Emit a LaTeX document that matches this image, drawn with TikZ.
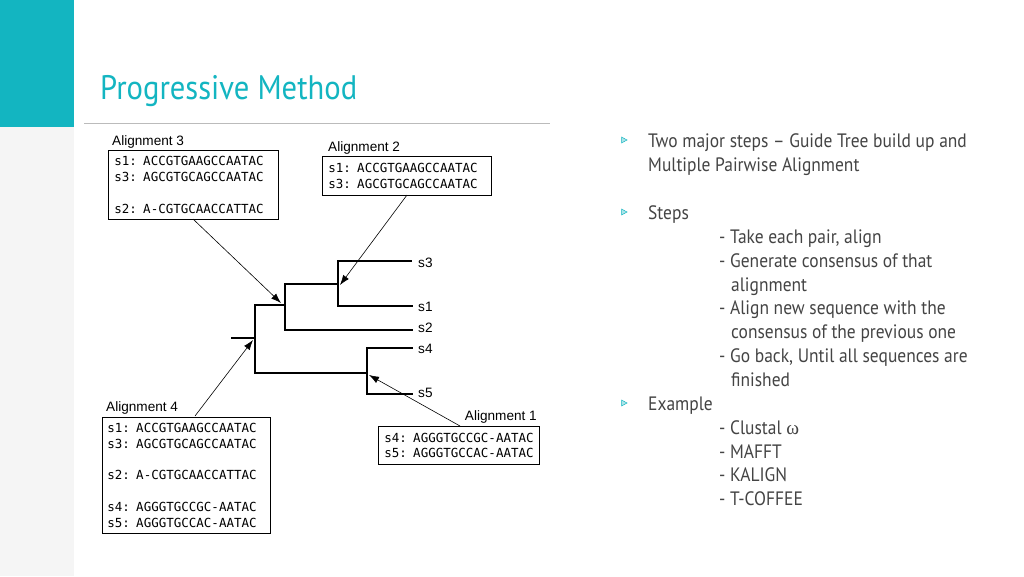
\documentclass[tikz,border=0pt]{standalone}
\usepackage{fontspec}
\setmainfont{PT Sans}
\newfontfamily\bodyfont[FakeStretch=0.9]{PT Sans}
\newfontfamily\monofont{DejaVu Sans Mono}
\newfontfamily\helv{Liberation Sans}
\newfontfamily\greekfont{Liberation Serif}
\usetikzlibrary{arrows.meta}
\definecolor{teal1}{HTML}{13B5C1}
\definecolor{txtgray}{HTML}{444444}
\definecolor{stripgray}{HTML}{F5F5F5}
\definecolor{rulegray}{HTML}{BBBBBB}
\tikzset{
  alnbox/.style={draw=black, line width=0.8pt, anchor=north west, align=left,
    inner xsep=6pt, inner ysep=0pt, font=\monofont\fontsize{12.5}{15.8}\selectfont},
  alnlabel/.style={font=\helv\fontsize{13.6}{16}\selectfont, inner sep=0pt},
  leaf/.style={font=\helv\fontsize{13.6}{16}\selectfont, inner sep=0pt, anchor=west},
  branch/.style={line width=1.8pt, line cap=rect},
  pointer/.style={line width=0.6pt, -{Latex[length=10pt,width=7pt]}},
  bodytext/.style={font=\bodyfont\fontsize{19.4}{24}\selectfont, text=txtgray, anchor=base west, inner sep=0pt},
  bullet/.style={draw=teal1, fill=teal1!35, line width=0.5pt}
}
\begin{document}
\begin{tikzpicture}[x=1pt,y=-1pt]
\useasboundingbox (0,0) rectangle (1024,576);
\fill[white] (0,0) rectangle (1024,576);
\fill[stripgray] (0,0) rectangle (74,576);
\fill[teal1] (0,0) rectangle (74,127);
\node[font=\bodyfont\fontsize{34}{40}\selectfont, text=teal1, anchor=base west, inner sep=0pt] (title) at (100,99) {Progressive Method};
\draw[rulegray, line width=0.8pt] (84,123) coordinate (r1) -- (550,123) coordinate (r2);

% alignment boxes
\node[alnlabel, anchor=base west] (l3) at (112,145) {Alignment 3};
\node[alnbox, minimum width=170pt, minimum height=69pt, text width=158pt] (a3) at (108,150)
 {\mbox{s1: ACCGTGAAGCCAATAC}\\\mbox{s3: AGCGTGCAGCCAATAC}\\[15.8pt]\mbox{s2: A-CGTGCAACCATTAC}};
\node[alnlabel, anchor=base west] (l2) at (328,151) {Alignment 2};
\node[alnbox, minimum width=169pt, minimum height=39pt, text width=157pt] (a2) at (322,156)
 {\mbox{s1: ACCGTGAAGCCAATAC}\\\mbox{s3: AGCGTGCAGCCAATAC}};
\node[alnlabel, anchor=base west] (l4) at (106,411) {Alignment 4};
\node[alnbox, minimum width=168pt, minimum height=116pt, text width=158pt, inner xsep=5pt] (a4) at (102,417)
 {\mbox{s1: ACCGTGAAGCCAATAC}\\\mbox{s3: AGCGTGCAGCCAATAC}\\[15.8pt]\mbox{s2: A-CGTGCAACCATTAC}\\[15.8pt]\mbox{s4: AGGGTGCCGC-AATAC}\\\mbox{s5: AGGGTGCCAC-AATAC}};
\node[alnlabel, anchor=base east] (l1) at (537,420) {Alignment 1};
\node[alnbox, minimum width=161pt, minimum height=38pt, text width=149pt] (a1) at (378,426)
 {\mbox{s4: AGGGTGCCGC-AATAC}\\\mbox{s5: AGGGTGCCAC-AATAC}};

% tree coordinates
\coordinate (rootL) at (232,338);
\coordinate (rootT) at (255,305);
\coordinate (rootB) at (255,373);
\coordinate (nA) at (285,305);
\coordinate (nAt) at (285,284);
\coordinate (nAb) at (285,330);
\coordinate (nB) at (338,284);
\coordinate (nBt) at (338,261);
\coordinate (nBb) at (338,306);
\coordinate (nC) at (367,373);
\coordinate (nCt) at (367,348);
\coordinate (nCb) at (367,394);
\node[leaf] (s3) at (418,263) {s3};
\node[leaf] (s1) at (418,307) {s1};
\node[leaf] (s2) at (418,328) {s2};
\node[leaf] (s4) at (418,349) {s4};
\node[leaf] (s5) at (418,393) {s5};

\draw[branch] (rootL) -- (255,338);
\draw[branch] (rootT) -- (rootB);
\draw[branch] (rootT) -- (nA);
\draw[branch] (nAt) -- (nAb);
\draw[branch] (nAt) -- (nB);
\draw[branch] (nBt) -- (nBb);
\draw[branch] (nBt) -- (411,261);
\draw[branch] (nBb) -- (412,306);
\draw[branch] (nAb) -- (412,330);
\draw[branch] (rootB) -- (nC);
\draw[branch] (nCt) -- (nCb);
\draw[branch] (nCt) -- (412,348);
\draw[branch] (nCb) -- (412,394);

% pointers
\draw[pointer] (193,219) -- (281,303);
\draw[pointer] (407,195) -- (340,285);
\draw[pointer] (195,416) -- (253,340);
\draw[pointer] (460,426) -- (369,375);

% right text
\foreach \yy in {140,212,403} {
  \draw[bullet] (621.5,\yy-3) -- (627,\yy) -- (621.5,\yy+3) -- cycle;
}
\node[bodytext] (t1) at (648,147) {Two major steps – Guide Tree build up and};
\node[bodytext] (t2) at (648,171) {Multiple Pairwise Alignment};
\node[bodytext] (t3) at (648,219) {Steps};
\node[bodytext] (t4) at (719,243) {- Take each pair, align};
\node[bodytext] (t5) at (719,267) {- Generate consensus of that};
\node[bodytext] (t6) at (731,291) {alignment};
\node[bodytext] (t7) at (719,314) {- Align new sequence with the};
\node[bodytext] (t8) at (731,338) {consensus of the previous one};
\node[bodytext] (t9) at (719,362) {- Go back, Until all sequences are};
\node[bodytext] (t10) at (731,386) {finished};
\node[bodytext] (t11) at (648,410) {Example};
\node[bodytext] (t12) at (719,434) {- Clustal {\greekfont ω}};
\node[bodytext] (t13) at (719,458) {- MAFFT};
\node[bodytext] (t14) at (719,481) {- KALIGN};
\node[bodytext] (t15) at (719,505) {- T-COFFEE};
\end{tikzpicture}
\end{document}
